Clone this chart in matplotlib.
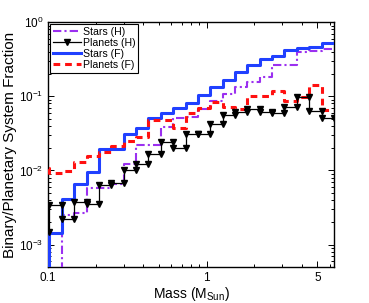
import matplotlib
matplotlib.use("Agg")
import matplotlib.pyplot as plt
import numpy as np
from matplotlib.ticker import FixedLocator, LogLocator, NullFormatter

plt.rcParams.update({
    "font.family": "Liberation Sans",
    "mathtext.fontset": "custom",
    "mathtext.rm": "Liberation Sans",
    "mathtext.it": "Liberation Sans:italic",
    "font.size": 8,
})

# Mass bin edges (M_Sun); the first bin runs off the left of the axis.
EDGES = [0.085, 0.102, 0.122, 0.146, 0.175, 0.21, 0.251, 0.3, 0.359, 0.43,
         0.515, 0.616, 0.737, 0.882, 1.055, 1.263, 1.511, 1.808, 2.164,
         2.59, 3.1, 3.71, 4.44, 5.31, 6.36]

# Fractions per bin (values below 5e-4 sit under the axis).
STARS_H = [1e-4, 1e-4, 2.52e-3, 2.69e-3, 5.83e-3, 5.83e-3, 6.6e-3, 0.0123,
           0.0221, 0.0221, 0.0386, 0.051, 0.0526, 0.0675, 0.0865, 0.107,
           0.133, 0.156, 0.182, 0.264, 0.264, 0.395, 0.407, 0.433]
PLANETS_H = [1.49e-3, 3.44e-3, 2.23e-3, 3.78e-3, 3.57e-3, 6.4e-3, 6.8e-3,
             0.0102, 0.0123, 0.0167, 0.0243, 0.0201, 0.0311, 0.0311, 0.0424,
             0.056, 0.0615, 0.0675, 0.0615, 0.0596, 0.0718, 0.098, 0.0634,
             0.051]
STARS_F = [1e-4, 1.45e-3, 4.15e-3, 6.6e-3, 9.6e-3, 0.0195, 0.0195, 0.0311,
           0.0374, 0.051, 0.0596, 0.0696, 0.0813, 0.104, 0.133, 0.166, 0.212,
           0.264, 0.318, 0.348, 0.42, 0.447, 0.461, 0.522]
PLANETS_F = [0.0108, 0.0093, 0.0099, 0.0131, 0.0156, 0.0178, 0.0214, 0.025,
             0.0283, 0.048, 0.048, 0.0374, 0.0596, 0.0696, 0.0838, 0.0718,
             0.0675, 0.101, 0.101, 0.118, 0.0865, 0.098, 0.142, 0.0654]

XTICKS = [0.1, 1, 5]
XTICKLABELS = ["0.1", "1", "5"]

PURPLE = "#9b30f0"
BLUE = "#2040ff"
RED = "#ff1010"

fig = plt.figure(figsize=(3.69, 3.03), dpi=100)
ax = fig.add_axes([0.130, 0.119, 0.775, 0.808])

edges = np.array(EDGES)


def stair_xy(vals):
    vals = np.asarray(vals)
    x = np.repeat(edges, 2)[1:-1]
    y = np.repeat(vals, 2)
    return x, y


x, y = stair_xy(STARS_H)
ax.plot(x, y, color=PURPLE, lw=1.5, ls=(0, (4, 1.5, 1, 1.5)),
        label="Stars (H)", zorder=3)
x, y = stair_xy(PLANETS_H)
ax.plot(x, y, color="black", lw=0.9, marker="v", ms=3.7,
        label="Planets (H)", zorder=5)
x, y = stair_xy(STARS_F)
ax.plot(x, y, color=BLUE, lw=2.2, label="Stars (F)", zorder=4)
x, y = stair_xy(PLANETS_F)
ax.plot(x, y, color=RED, lw=2.2, ls=(0, (2.2, 1.6)),
        label="Planets (F)", zorder=4)

ax.set_xscale("log")
ax.set_yscale("log")
ax.set_xlim(0.1, 6.36)
ax.set_ylim(5e-4, 1)

ax.xaxis.set_major_locator(FixedLocator(XTICKS))
ax.set_xticklabels(XTICKLABELS)
ax.xaxis.set_minor_locator(LogLocator(base=10, subs=np.arange(2, 10)))
ax.xaxis.set_minor_formatter(NullFormatter())
ax.yaxis.set_major_locator(LogLocator(base=10, numticks=10))
ax.yaxis.set_minor_locator(LogLocator(base=10, subs=np.arange(2, 10), numticks=10))
ax.yaxis.set_minor_formatter(NullFormatter())

ax.tick_params(which="both", direction="in", top=True, right=True,
               labelsize=8.5, width=0.7)
ax.tick_params(which="major", length=4)
ax.tick_params(which="minor", length=2)
for s in ax.spines.values():
    s.set_linewidth(1.0)

ax.set_ylabel("Binary/Planetary System Fraction", fontsize=11, labelpad=1)
ax.set_xlabel(r"Mass (M$_{\mathrm{Sun}}$)", fontsize=10, labelpad=1)

leg = ax.legend(loc="upper left", fontsize=7.6, frameon=True, fancybox=False,
                edgecolor="black", framealpha=1, borderaxespad=0.2,
                handlelength=2.7, handletextpad=0.15, labelspacing=0.1,
                borderpad=0.25)
leg.get_frame().set_linewidth(0.8)

fig.savefig("out.png", dpi=100)
